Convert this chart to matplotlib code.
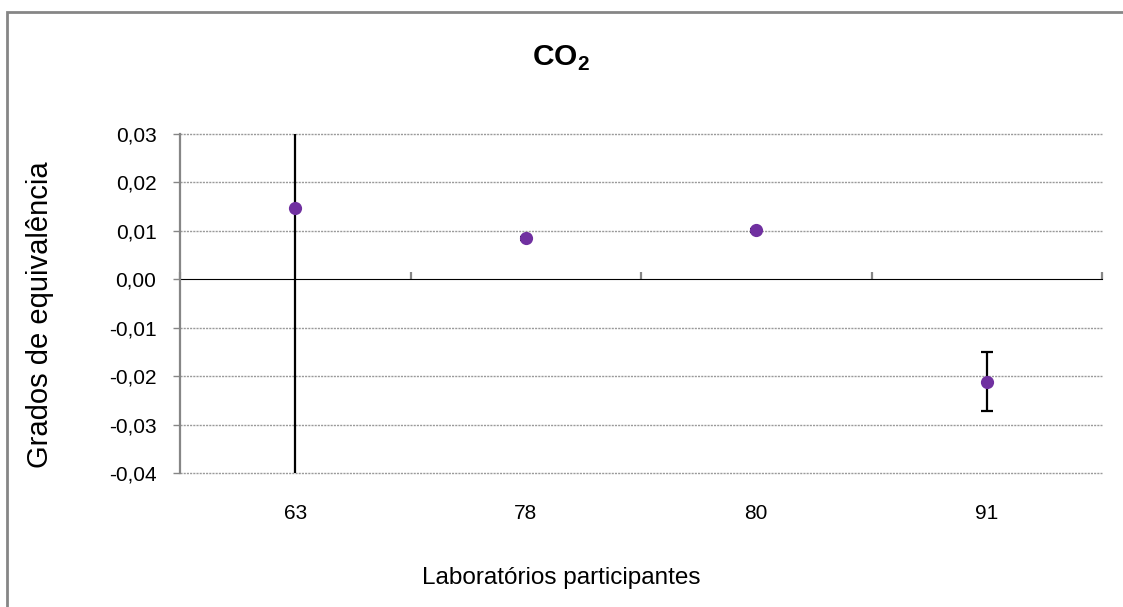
import matplotlib
matplotlib.use("Agg")
import matplotlib.pyplot as plt
from matplotlib.patches import Rectangle
from matplotlib.ticker import FuncFormatter

plt.rcParams['font.family'] = ['Liberation Sans', 'DejaVu Sans']
plt.rcParams['mathtext.fontset'] = 'custom'
plt.rcParams['mathtext.rm'] = 'Liberation Sans'
plt.rcParams['mathtext.bf'] = 'Liberation Sans:bold'

# Data
labs = ['63', '78', '80', '91']
degrees = [0.0148, 0.0085, 0.0101, -0.0212]
uncert = [0.0600, 0.0003, 0.0003, 0.0061]
y_ticks = [-0.04, -0.03, -0.02, -0.01, 0.00, 0.01, 0.02, 0.03]

W, H = 1123, 607
fig = plt.figure(figsize=(W / 100, H / 100), dpi=100)
ax = fig.add_axes([180 / W, 1 - 473 / H, (1102 - 180) / W, (473 - 134) / H])

x = list(range(len(labs)))
ax.errorbar(x, degrees, yerr=uncert, fmt='none', ecolor='black', elinewidth=1.6,
            capsize=4.5, capthick=1.6, zorder=3)
ax.plot(x, degrees, 'o', color='#7030A0', markersize=9.5, zorder=4,
        markeredgewidth=0)

ax.set_xlim(-0.5, len(labs) - 0.5)
ax.set_ylim(y_ticks[0], y_ticks[-1])
ax.set_yticks(y_ticks)
ax.yaxis.set_major_formatter(FuncFormatter(lambda v, p: f"{v:.2f}".replace('.', ',').replace('-0,00', '0,00')))
ax.set_xticks(x)
ax.set_xticklabels(labs)

for v in y_ticks:
    if abs(v) > 1e-9:
        ax.axhline(v, color='#9a9a9a', linewidth=1.0, linestyle=(0, (1.5, 0.8)),
                   zorder=1, clip_on=False)

for s in ['top', 'right', 'bottom']:
    ax.spines[s].set_visible(False)
ax.spines['left'].set_color('#868686')
ax.spines['left'].set_linewidth(1.6)

ax.tick_params(axis='y', direction='out', length=5, width=1, color='#868686',
               labelsize=15, pad=12)
ax.tick_params(axis='x', length=0, labelsize=15, pad=22)

# x axis line at zero with category-boundary ticks
sec = ax.secondary_xaxis(abs(y_ticks[0]) / (y_ticks[-1] - y_ticks[0]))
sec.spines['bottom'].set_color('#868686')
sec.spines['bottom'].set_linewidth(1.6)
sec.set_xticks([i - 0.5 for i in range(len(labs) + 1)])
sec.set_xticklabels([])
sec.tick_params(axis='x', direction='out', length=5, width=1.6, color='#868686')

fig.text(561 / W, 1 - 58 / H, r'CO$_\mathbf{2}$', fontsize=21.5, fontweight='bold',
         ha='center', va='center')
fig.text(40 / W, 1 - 315 / H, 'Grados de equivalência', fontsize=21, rotation=90,
         ha='center', va='center')
fig.text(561 / W, 1 - 578 / H, 'Laboratórios participantes', fontsize=17.5,
         ha='center', va='center')

fig.patches.append(Rectangle((6.5 / W, -0.1), 1.2, 1.1 - 12 / H, transform=fig.transFigure,
                             fill=False, edgecolor='#868686', linewidth=2))

fig.savefig('out.png', dpi=100)
